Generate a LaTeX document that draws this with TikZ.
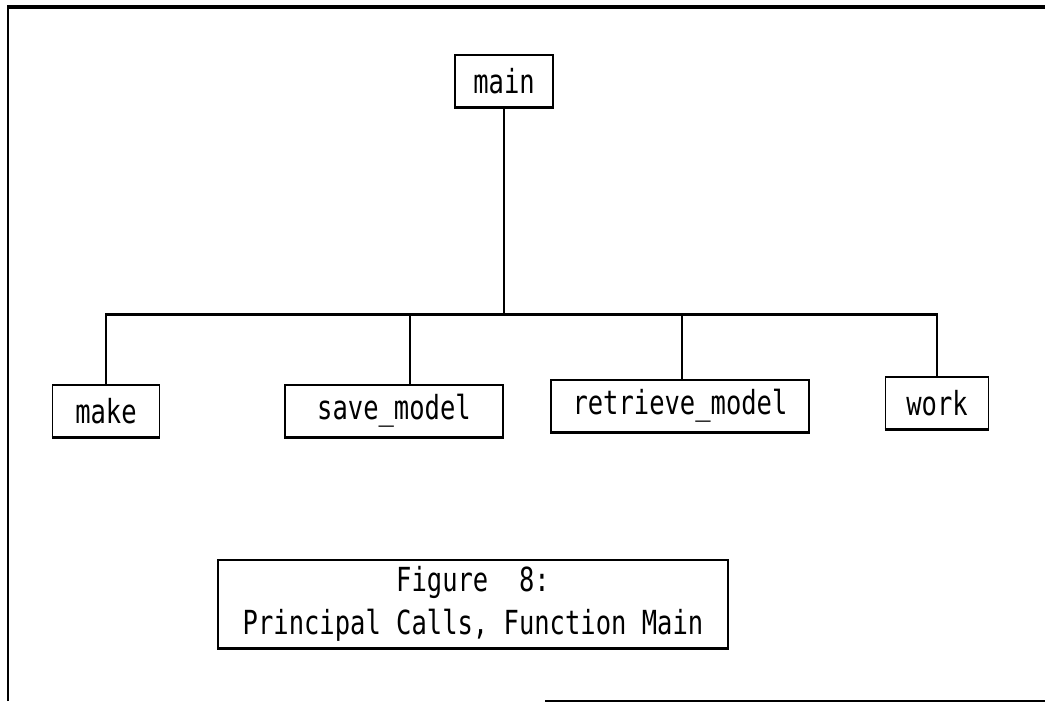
\documentclass[tikz,border=0pt]{standalone}
\usepackage{fontspec}
\setmonofont{DejaVu Sans Mono}
\usetikzlibrary{positioning}

\newcommand{\tallt}[1]{\scalebox{1}[1.3]{#1}}

\begin{document}
\begin{tikzpicture}[
    x=1pt,y=-1pt,
    box/.style={draw,line width=1.6pt,inner xsep=10pt,minimum height=52pt,
        font=\ttfamily\fontsize{25.5}{30}\selectfont},
    call/.style={line width=1.3pt},
    bus/.style={line width=3pt},
    base/.style={line width=3pt},
    frame/.style={line width=2pt}
]
    \useasboundingbox (0,0) rectangle (1045,703);

    % outer frame
    \draw[frame] (8,701) -- (8,7);
    \draw[frame,line width=3.5pt] (7,7) -- (1045,7);
    \draw[frame] (545,701) -- (1045,701);

    % call tree
    \node[box,minimum width=98pt] (main) at (504,81) {\tallt{main}};
    \node[box,minimum width=107pt] (make) at (106,411) {\tallt{make}};
    \node[box,minimum width=218pt] (save) at (394,411) {\tallt{save\_model}};
    \node[box,minimum width=258pt] (retrieve) at (680,406) {\tallt{retrieve\_model}};
    \node[box,minimum width=103pt] (work) at (937,403) {\tallt{work}};

    \coordinate (busmid) at (504,315);
    \coordinate (busl) at (make.north |- busmid);
    \coordinate (busr) at (work.north |- busmid);
    \coordinate (busa) at (410,315);
    \coordinate (busb) at (682,315);

    \draw[call] (main) -- (busmid);
    \draw[bus] ([xshift=-0.7pt]busl) -- ([xshift=0.7pt]busr);
    \draw[call] (busl) -- (make);
    \draw[call] (busa) -- (busa |- save.north);
    \draw[call] (busb) -- (busb |- retrieve.north);
    \draw[call] (busr) -- (work);

    % caption
    \node[box,align=center,minimum width=510pt,minimum height=88pt,inner ysep=2pt]
        (caption) at (473,604) {\tallt{Figure~~8:}\\[9pt]\tallt{Principal Calls, Function Main}};

    % heavy lower edges
    \foreach \n in {main,make,save,retrieve,work,caption}
        \draw[base] (\n.south west) -- (\n.south east);
\end{tikzpicture}
\end{document}
